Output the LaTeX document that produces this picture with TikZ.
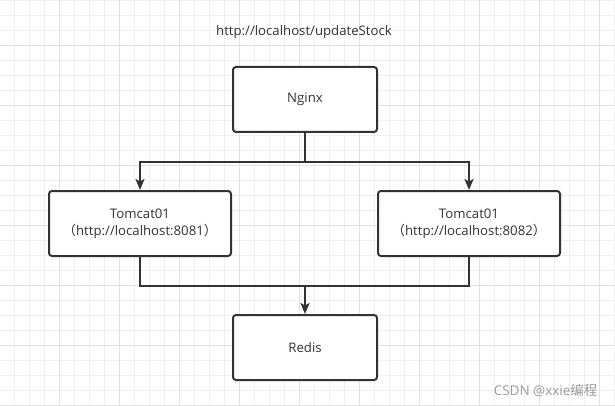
\documentclass[tikz,border=0pt]{standalone}
\usepackage{fontspec}
\setmainfont{Open Sans}
\newfontfamily\cjkf{Noto Sans CJK SC}
\usetikzlibrary{arrows.meta}
\definecolor{gridminor}{HTML}{EFEFEF}
\definecolor{gridmajor}{HTML}{E2E2E2}
\definecolor{ink}{HTML}{333333}
\definecolor{txt}{HTML}{333333}
\definecolor{wm}{HTML}{9A9A9A}
\tikzset{
  box/.style={draw=ink, line width=2pt, rounded corners=3pt, fill=white,
    inner sep=0pt, minimum height=65pt, align=center, text=txt,
    font=\fontsize{13.2}{16.7}\selectfont},
  conn/.style={draw=ink, line width=2pt},
  arr/.style={conn, -{Stealth[length=11pt, width=9pt, inset=2.5pt]}},
}
\begin{document}
\begin{tikzpicture}[x=1pt,y=-1pt]
\useasboundingbox (0,0) rectangle (615,406);
% grid
\foreach \k in {0,...,41} {
  \draw[gridminor, line width=0.9pt] ({14.7+15*(\k-1)},0) -- ({14.7+15*(\k-1)},406);
}
\foreach \k in {0,...,27} {
  \draw[gridminor, line width=0.9pt] (0,{15*\k}) -- (615,{15*\k});
}
\foreach \k in {0,...,10} {
  \draw[gridmajor, line width=0.9pt] ({-0.3+60*\k},0) -- ({-0.3+60*\k},406);
}
\foreach \k in {0,...,6} {
  \draw[gridmajor, line width=0.9pt] (0,{45+60*\k}) -- (615,{45+60*\k});
}
% title
\node[text=txt, font=\fontsize{13.2}{15}\selectfont] (title) at (304,32) {http://localhost/updateStock};
% boxes
\node[box, minimum width=144pt] (nginx) at (305,99.5) {Nginx};
\node[box, minimum width=182pt] (tc1) at (140,223.5) {Tomcat01\\{\cjkf （}http://localhost:8081{\cjkf ）}};
\node[box, minimum width=182pt] (tc2) at (469,223.5) {Tomcat01\\{\cjkf （}http://localhost:8082{\cjkf ）}};
\node[box, minimum width=144pt] (redis) at (305,347.5) {Redis};
% connectors
\coordinate (j1) at (305,162);
\coordinate (j2) at (305,286);
\draw[conn] (nginx.south) -- (j1);
\draw[arr] (j1) -| (tc1.north);
\draw[arr] (j1) -| (tc2.north);
\draw[conn] (tc1.south) |- (j2) -| (tc2.south);
\draw[arr] (j2) -- (redis.north);
% watermark
\node[text=wm, font=\fontsize{13.5}{16}\selectfont, anchor=east] (wmk) at (601,390) {CSDN @xxie{\cjkf 编程}};
\end{tikzpicture}
\end{document}
